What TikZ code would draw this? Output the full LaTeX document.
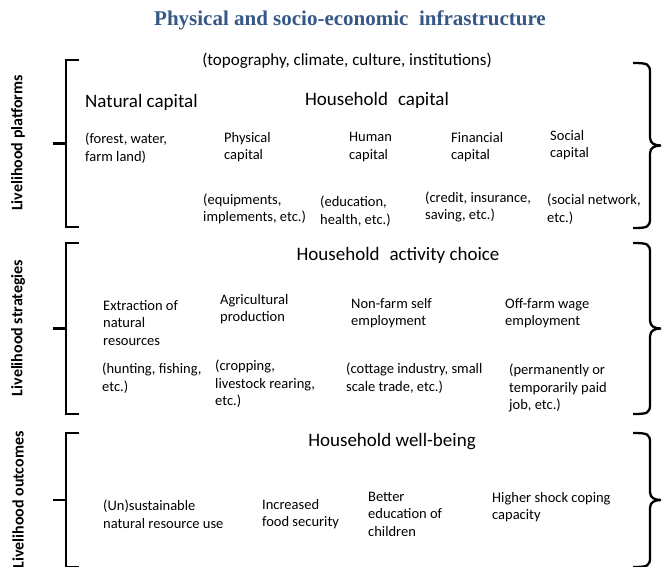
\documentclass[tikz,border=0pt]{standalone}
\usepackage{fontspec}
\setmainfont{Carlito}
\newfontfamily\titlefont{Liberation Serif}
\usetikzlibrary{calc}
\definecolor{titleblue}{RGB}{54,88,134}

% square bracket on the left with a tick in the middle
\def\leftbracket(#1:#2){%
	\pgfmathsetmacro\brmid{(#1+#2)/2}
	\draw[brk] (79,#1) -- (66,#1) -- (66,#2) -- (79,#2);
	\draw[brk] (53,\brmid) -- (66,\brmid);}
% curly brace on the right
\def\rightbrace(#1:#2){%
	\pgfmathsetmacro\brmid{(#1+#2)/2}
	\draw[brk] (633,#1) .. controls (648,#1) and (650,#1+1) .. (650,#1+10)
		-- (650,\brmid-8) .. controls (650,\brmid-2) and (655,\brmid) .. (661,\brmid)
		.. controls (655,\brmid) and (650,\brmid+2) .. (650,\brmid+8)
		-- (650,#2-10) .. controls (650,#2-1) and (648,#2) .. (633,#2);}

\begin{document}
\begin{tikzpicture}[x=1pt,y=-1pt,
	brk/.style={line width=2.3pt},
	head/.style={inner sep=0pt, font=\fontsize{19}{22}\selectfont},
	item/.style={inner sep=0pt, anchor=west, align=left, font=\fontsize{14.5}{17.5}\selectfont},
	side/.style={inner sep=0pt, rotate=90, font=\bfseries\fontsize{16}{18}\selectfont}]
	%%%%% START %%%%%
	\useasboundingbox[fill=white] (0,0) rectangle (664,566);

	\node[inner sep=0pt, text=titleblue, font=\titlefont\bfseries\fontsize{21}{24}\selectfont] (infra) at (350,20) {Physical and socio-economic\ \ infrastructure};
	\node[inner sep=0pt, font=\fontsize{17}{20}\selectfont] (topo) at (347,61) {(topography, climate, culture, institutions)};

	% livelihood platforms
	\leftbracket(60:227)
	\rightbrace(63:228)
	\node[side] (platf) at (18,143) {Livelihood platforms};
	\node[head, anchor=west] (natcap) at (85,102) {Natural capital};
	\node[head] (hhcap) at (377,100) {Household\hspace{0.3em} capital};
	\node[item] (forest) at (85,148) {(forest, water,\\farm land)};
	\node[item] (phys) at (224,147) {Physical\\capital};
	\node[item] (human) at (349,147) {Human\\capital};
	\node[item] (fin) at (451,147) {Financial\\capital};
	\node[item] (soc) at (550,145) {Social\\capital};
	\node[item] (equip) at (203,209) {(equipments,\\implements, etc.)};
	\node[item] (educ) at (320,211) {(education,\\health, etc.)};
	\node[item] (credit) at (425,207) {(credit, insurance,\\saving, etc.)};
	\node[item] (socnet) at (547,209) {(social network,\\etc.)};

	% livelihood strategies
	\leftbracket(243:414)
	\rightbrace(243:414)
	\node[side] (strat) at (18,328) {Livelihood strategies};
	\node[head] (activity) at (398,255) {Household\hspace{0.3em} activity choice};
	\node[item] (extract) at (103,323) {Extraction of\\natural\\resources};
	\node[item] (agri) at (220,309) {Agricultural\\production};
	\node[item] (nonfarm) at (351,313) {Non-farm self\\employment};
	\node[item] (offfarm) at (505,313) {Off-farm wage\\employment};
	\node[item] (hunting) at (102,378) {(hunting, fishing,\\etc.)};
	\node[item] (cropping) at (215,384) {(cropping,\\livestock rearing,\\etc.)};
	\node[item] (cottage) at (346,378) {(cottage industry, small\\scale trade, etc.)};
	\node[item] (perm) at (509,388) {(permanently or\\temporarily paid\\job, etc.)};

	% livelihood outcomes
	\leftbracket(433:567)
	\rightbrace(433:567)
	\node[side] (outc) at (18,500) {Livelihood outcomes};
	\node[head] (wellbeing) at (392,442) {Household well-being};
	\node[item] (unsust) at (103,514) {(Un)sustainable\\natural resource use};
	\node[item] (foodsec) at (262,514) {Increased\\food security};
	\node[item] (better) at (368,514) {Better\\education of\\children};
	\node[item] (shock) at (492,507) {Higher shock coping\\capacity};
	%%%%% END %%%%%
\end{tikzpicture}
\end{document}
